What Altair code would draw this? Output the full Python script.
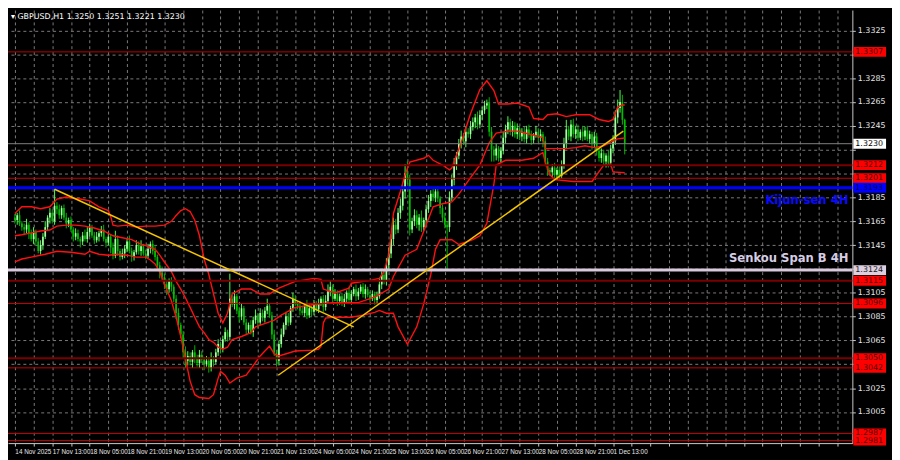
import altair as alt
import pandas as pd

BASE = 1.3      # prices below are written in pips above 1.3000
PIP = 0.0001

# ---- H1 candles (closes, pips above 1.3000), open = previous close ----
first_open = 168
closes = [
    166, 170, 163, 160, 158, 162, 155, 150, 156, 148,
    140, 145, 152, 160, 168, 172, 165, 178, 175, 170,
    176, 168, 163, 166, 158, 152, 155, 150, 148, 153,
    150, 156, 160, 153, 149, 152, 155, 158, 150, 147,
    152, 143, 136, 150, 140, 135, 138, 142, 148, 140,
    135, 139, 145, 140, 144, 138, 136, 142, 146, 140,
    135, 128, 122, 118, 112, 108, 115, 110, 100, 88,
    78, 70, 55, 48, 52, 47, 55, 50, 46, 53,
    49, 45, 48, 42, 50, 47, 55, 62, 58, 66,
    72, 68, 100, 95, 102, 90, 85, 92, 80, 74,
    78, 72, 82, 86, 80, 88, 84, 90, 94, 86,
    70, 55, 48, 62, 70, 78, 85, 80, 92, 100,
    96, 94, 90, 88, 94, 86, 92, 89, 95, 91,
    96, 100, 93, 98, 106, 110, 100, 104, 98, 102,
    96, 100, 105, 99, 104, 108, 102, 106, 110, 104,
    108, 103, 100, 104, 99, 102, 112, 120, 115, 128,
    138, 150, 162, 158, 172, 178, 190, 205, 200, 158,
    165, 170, 162, 168, 160, 166, 175, 182, 188, 185,
    190, 184, 176, 168, 162, 160, 185, 200, 212, 220,
    230, 236, 232, 240, 238, 244, 248, 252, 246, 254,
    258, 262, 264, 240, 225, 220, 226, 218, 224, 235,
    242, 248, 240, 245, 238, 243, 236, 240, 234, 242,
    238, 233, 237, 240, 235, 238, 232, 215, 208, 206,
    210, 204, 208, 203, 212, 230, 242, 236, 246, 238,
    242, 235, 240, 236, 241, 234, 238, 230, 236, 224,
    218, 222, 215, 220, 214, 226, 232, 252, 260, 265,
    250, 230,
]
up_wick = [
    3, 2, 4, 2, 3, 5, 2, 3, 4, 2, 3, 4, 3, 5, 2, 4, 3, 14, 3, 4,
    2, 3, 4, 2, 3, 2, 4, 3, 2, 3, 5, 4, 3, 2, 3, 4, 2, 3, 4, 2,
    3, 2, 4, 7, 3, 2, 4, 3, 2, 5, 3, 2, 4, 3, 5, 2, 3, 4, 2, 3,
    4, 2, 3, 5, 3, 4, 2, 3, 2, 3, 4, 2, 3, 5, 4, 3, 2, 6, 3, 4,
    3, 2, 4, 3, 5, 2, 3, 4, 2, 3, 4, 2, 21, 3, 5, 2, 3, 4, 2, 3,
    2, 4, 3, 5, 2, 4, 3, 3, 6, 2, 3, 4, 2, 3, 5, 2, 4, 3, 2, 5,
    3, 2, 4, 3, 2, 5, 3, 2, 4, 3, 4, 2, 3, 5, 6, 5, 2, 4, 3, 2,
    3, 4, 2, 5, 3, 2, 4, 3, 2, 3, 4, 2, 3, 3, 2, 4, 5, 3, 4, 6,
    5, 4, 6, 5, 4, 6, 5, 8, 10, 4, 3, 5, 4, 3, 6, 2, 4, 5, 3, 4,
    3, 4, 2, 3, 4, 3, 5, 4, 6, 3, 4, 5, 3, 4, 3, 5, 4, 3, 5, 4,
    3, 4, 3, 5, 4, 3, 4, 2, 3, 5, 4, 5, 3, 4, 3, 4, 2, 3, 4, 3,
    4, 3, 2, 5, 3, 4, 2, 4, 3, 2, 3, 4, 2, 3, 4, 5, 8, 3, 4, 5,
    3, 4, 2, 5, 3, 4, 3, 2, 4, 3, 2, 4, 3, 2, 4, 3, 5, 6, 7, 10,
    6, 1,
]
dn_wick = [
    3, 4, 2, 3, 4, 3, 5, 2, 4, 3, 2, 3, 4, 2, 3, 5, 2, 3, 4, 3,
    3, 2, 4, 3, 2, 4, 3, 2, 5, 3, 2, 3, 4, 2, 3, 2, 4, 3, 2, 4,
    2, 5, 3, 2, 4, 3, 2, 4, 3, 2, 4, 3, 2, 3, 4, 2, 3, 2, 4, 3,
    3, 4, 5, 3, 4, 5, 3, 4, 3, 5, 4, 3, 5, 6, 4, 3, 5, 4, 3, 4,
    3, 5, 2, 4, 3, 4, 2, 3, 4, 3, 2, 4, 3, 2, 4, 3, 5, 3, 2, 4,
    3, 2, 4, 3, 5, 2, 3, 4, 3, 2, 4, 3, 5, 4, 3, 2, 4, 3, 2, 3,
    2, 3, 4, 2, 3, 3, 2, 4, 3, 2, 3, 2, 4, 3, 2, 4, 3, 2, 4, 3,
    2, 3, 4, 2, 3, 2, 4, 3, 2, 3, 4, 2, 3, 2, 4, 3, 2, 4, 3, 4,
    3, 4, 5, 4, 3, 5, 4, 6, 4, 5, 3, 4, 3, 5, 4, 3, 4, 3, 5, 3,
    4, 3, 5, 4, 3, 36, 4, 3, 5, 4, 3, 4, 3, 5, 3, 4, 3, 5, 4, 3,
    4, 3, 3, 4, 10, 5, 4, 3, 4, 3, 5, 4, 3, 4, 3, 4, 3, 4, 3, 4,
    3, 4, 3, 2, 4, 3, 5, 4, 5, 3, 4, 3, 4, 3, 2, 3, 4, 3, 4, 3,
    4, 3, 2, 4, 3, 2, 4, 5, 3, 4, 3, 4, 3, 5, 4, 3, 4, 3, 5, 4,
    4, 9,
]

# ---- axis labels ----
time_labels = ["14 Nov 2025", "17 Nov 13:00", "18 Nov 05:00", "18 Nov 21:00",
               "19 Nov 13:00", "20 Nov 05:00", "20 Nov 21:00", "21 Nov 13:00",
               "24 Nov 05:00", "24 Nov 21:00", "25 Nov 13:00", "26 Nov 05:00",
               "26 Nov 21:00", "27 Nov 13:00", "28 Nov 05:00", "28 Nov 21:00",
               "1 Dec 13:00"]
price_ticks = [1.3005, 1.3025, 1.3045, 1.3065, 1.3085, 1.3105, 1.3125, 1.3145,
               1.3165, 1.3185, 1.3205, 1.3225, 1.3245, 1.3265, 1.3285, 1.3305,
               1.3325]
# tick labels that sit under a level box on the price scale
covered_ticks = ["1.3045", "1.3125", "1.3205", "1.3225", "1.3305"]

# ---- bands (bar index, pips above 1.3000) ----
upper_idx = [0, 3, 7, 11, 15, 18, 22, 24, 28, 32, 36, 40, 41, 42, 44, 48, 52, 56, 60, 64,
             67, 69, 71, 73, 75, 77, 79, 81, 83, 85, 87, 89, 91, 93, 97, 101, 105, 109, 113, 120,
             128, 131, 132, 137, 143, 144, 152, 156, 158, 160, 162, 165, 167, 169, 175, 177, 179, 183, 186, 187,
             191, 195, 199, 202, 205, 207, 211, 215, 220, 222, 226, 228, 232, 236, 240, 246, 250, 254, 256, 258,
             260, 261]
upper_val = [171.5, 177.1, 177.1, 175.5, 177.1, 183.6, 185.3, 184.5, 183.6, 182.0, 177.1, 173.9, 169.0, 161.7, 160.9,
             161.7, 160.1, 160.9, 160.9, 161.7, 164.9, 169.8, 173.9, 175.5, 173.1, 165.8, 152.8, 133.3, 120.3, 104.0,
             87.8, 79.7, 87.8, 104.0, 108.1, 108.1, 104.0, 104.0, 108.9, 114.6, 117.0, 116.2, 108.1, 104.8, 108.9,
             113.0, 115.4, 117.0, 122.7, 136.5, 171.5, 190.1, 203.9, 214.5, 217.8, 220.2, 216.1, 212.1, 208.0, 209.6,
             230.8, 255.1, 275.4, 282.8, 274.6, 263.3, 263.3, 264.1, 260.8, 251.1, 250.3, 254.3, 255.1, 252.7, 254.3,
             254.3, 250.3, 248.6, 250.3, 260.8, 262.4, 262.4]
mid_idx = [0, 3, 7, 11, 15, 18, 22, 26, 30, 34, 38, 42, 46, 50, 54, 56, 60, 62, 64, 67,
           69, 71, 73, 75, 77, 79, 81, 83, 85, 87, 89, 91, 93, 97, 101, 103, 109, 111, 114, 120,
           128, 136, 147, 152, 155, 160, 162, 167, 172, 179, 183, 187, 190, 195, 199, 203, 206, 211, 215, 220,
           224, 226, 227, 232, 236, 240, 244, 248, 252, 256, 258, 261]
mid_val = [152.8, 153.6, 155.2, 156.8, 157.6, 160.9, 161.7, 161.7, 160.9, 159.3, 156.8, 152.8, 151.1, 149.5, 145.5,
           144.6, 141.4, 136.5, 130.8, 122.7, 114.6, 108.1, 100.8, 92.7, 84.5, 76.4, 71.5, 65.8, 63.4, 59.3,
           57.7, 59.3, 65.8, 68.3, 71.5, 76.4, 80.5, 82.1, 86.2, 92.7, 95.1, 96.7, 96.7, 100.0, 102.4,
           108.1, 118.6, 136.5, 141.4, 177.1, 179.6, 181.2, 187.7, 201.5, 212.1, 230.8, 238.9, 240.5, 240.5, 238.1,
           236.4, 234.8, 225.9, 225.9, 225.9, 226.7, 228.3, 226.7, 228.3, 232.4, 234.0, 234.8]
lower_idx = [0, 3, 7, 13, 18, 24, 30, 32, 36, 40, 44, 48, 52, 56, 58, 60, 62, 64, 67, 69,
             71, 73, 75, 77, 79, 83, 85, 87, 88, 90, 92, 95, 99, 102, 105, 107, 109, 111, 113, 120,
             128, 130, 131, 132, 133, 136, 144, 149, 154, 156, 159, 162, 164, 168, 172, 175, 178, 180, 182, 187,
             190, 196, 199, 202, 205, 206, 210, 217, 222, 226, 227, 229, 231, 239, 247, 249, 252, 255, 256, 261]
lower_val = [130.8, 133.3, 134.9, 137.3, 139.8, 139.0, 137.3, 139.8, 137.3, 136.5, 137.3, 136.5, 134.9, 134.9, 132.5,
             129.2, 122.7, 112.2, 98.3, 84.5, 68.3, 49.6, 30.9, 19.5, 17.1, 16.3, 19.5, 33.4, 39.0, 35.8,
             29.3, 33.4, 35.8, 43.9, 52.0, 56.1, 60.2, 53.7, 52.0, 56.1, 56.9, 57.7, 60.2, 79.7, 83.7,
             84.5, 84.5, 86.2, 88.6, 90.2, 87.8, 87.8, 76.4, 61.8, 76.4, 95.9, 120.3, 141.4, 149.5, 149.5,
             145.5, 149.5, 152.8, 163.3, 195.8, 212.1, 216.1, 216.1, 217.8, 222.6, 214.5, 203.9, 199.9, 198.3, 198.3,
             203.9, 212.1, 212.9, 206.4, 205.6]

# ---- trend lines (bar index, pips) ----
trend_name = ["down", "down", "up", "up"]
trend_idx = [17, 145, 112.7, 260.4]
trend_val = [191.8, 76.4, 35.8, 240.5]

# ---- horizontal levels ----
level_price = [1.3307, 1.3230, 1.3212, 1.3201, 1.3193, 1.3124, 1.3115, 1.3096, 1.3050, 1.3042, 1.2987, 1.2981]
level_line = ["#c00000", "#7f7f7f", "#7a0000", "#c80000", "#0000ff", "#d8cadc",
              "#7a0000", "#c80000", "#7a0000", "#c80000", "#c80000", "#c80000"]
level_width = [1, 1, 2, 1, 3, 3, 2, 1, 2, 1, 1, 1]
level_box = ["#ff0000", "#ffffff", "#ff0000", "#ff0000", "#0000ff", "#dccfe0",
             "#ff0000", "#ff0000", "#ff0000", "#ff0000", "#ff0000", "#ff0000"]
level_text = ["#4a0000", "#000000", "#4a0000", "#4a0000", "#00004a", "#202020",
              "#4a0000", "#4a0000", "#4a0000", "#4a0000", "#4a0000", "#4a0000"]

title_text = "\u25be GBPUSD,H1  1.3250 1.3251 1.3221 1.3230"

# ================= build tables =================
def px(v):
    return BASE + v * PIP

n = len(closes)
opens = [first_open] + closes[:-1]
candles = pd.DataFrame({
    "i": list(range(n)),
    "o": [px(v) for v in opens],
    "c": [px(v) for v in closes],
    "h": [px(max(o, c) + u) for o, c, u in zip(opens, closes, up_wick)],
    "l": [px(min(o, c) - d) for o, c, d in zip(opens, closes, dn_wick)],
})

bands = pd.concat([
    pd.DataFrame({"i": upper_idx, "p": [px(v) for v in upper_val], "band": "upper"}),
    pd.DataFrame({"i": mid_idx, "p": [px(v) for v in mid_val], "band": "mid"}),
    pd.DataFrame({"i": lower_idx, "p": [px(v) for v in lower_val], "band": "lower"}),
])
trend = pd.DataFrame({"i": trend_idx, "p": [px(v) for v in trend_val], "line": trend_name})
levels = pd.DataFrame({
    "p": level_price, "lc": level_line, "lw": level_width,
    "bc": level_box, "tc": level_text,
    "label": [f"{v:.4f}" for v in level_price],
})

W, H = 852, 437
FONT = "DejaVu Sans"
SMALL = "Liberation Sans"
xs = alt.Scale(domain=[-0.82, 356.3], nice=False, zero=False)
ys = alt.Scale(domain=[1.29789, 1.33421], nice=False, zero=False)

arr = "[" + ",".join(f"'{t}'" for t in time_labels) + "]"
covered = "[" + ",".join(f"'{t}'" for t in covered_ticks) + "]"
xaxis = alt.Axis(
    title=None, orient="bottom", values=list(range(0, 353, 8)),
    labelExpr=f"(datum.value % 16 == 0 && datum.value <= 256) ? {arr}[datum.value / 16] : ''",
    grid=True, gridColor="#7a7a7a", gridDash=[3, 3], gridWidth=1,
    domainColor="#c8c8c8", tickColor="#c8c8c8", tickSize=3,
    labelColor="#e8e8e8", labelFont=SMALL, labelFontSize=6.4, labelAlign="left",
    labelPadding=2, labelOverlap=False, labelFlush=False, labelBound=False,
)
yaxis = alt.Axis(
    title=None, orient="right", values=price_ticks,
    labelExpr=f"indexof({covered}, format(datum.value, '.4f')) >= 0 ? '' : format(datum.value, '.4f')",
    grid=True, gridColor="#7a7a7a", gridDash=[3, 3], gridWidth=1,
    domainColor="#c8c8c8", tickColor="#c8c8c8", tickSize=3,
    labelColor="#e8e8e8", labelFont=FONT, labelFontSize=8, labelPadding=2,
    labelOverlap=False, labelBound=False,
)

def X(field):
    return alt.X(field, scale=xs, axis=xaxis)

def Y(field):
    return alt.Y(field, scale=ys, axis=yaxis)

base = alt.Chart(candles)
wicks = base.mark_rule(strokeWidth=1).encode(
    x=X("i:Q"), y=Y("l:Q"), y2="h:Q",
    color=alt.condition("datum.c >= datum.o", alt.value("#4dff4d"), alt.value("#00b400")),
)
bodies = base.mark_bar(size=1.7).encode(
    x=X("i:Q"), y=Y("o:Q"), y2="c:Q",
    color=alt.condition("datum.c >= datum.o", alt.value("#a6ffa6"), alt.value("#00c000")),
)
band_lines = alt.Chart(bands).mark_line(color="#ff1010", strokeWidth=1.4).encode(
    x=X("i:Q"), y=Y("p:Q"), detail="band:N",
)
level_rules = alt.Chart(levels).mark_rule().encode(
    y=Y("p:Q"),
    color=alt.Color("lc:N", scale=None),
    strokeWidth=alt.StrokeWidth("lw:Q", scale=None),
)
trend_lines = alt.Chart(trend).mark_line(color="#f5c400", strokeWidth=1.5).encode(
    x=X("i:Q"), y=Y("p:Q"), detail="line:N",
)
boxes = alt.Chart(levels).mark_rule(strokeWidth=10).encode(
    x=alt.value(W + 1), x2=alt.value(W + 34),
    y=Y("p:Q"),
    color=alt.Color("bc:N", scale=None),
)
box_text = alt.Chart(levels).mark_text(align="left", baseline="middle", font=FONT, fontSize=8).encode(
    x=alt.value(W + 3),
    y=Y("p:Q"),
    text="label:N",
    color=alt.Color("tc:N", scale=None),
)
NARROW = "Liberation Sans Narrow, DejaVu Sans Condensed, Liberation Sans, sans-serif"
kijun = alt.Chart(pd.DataFrame({"p": [1.3193], "t": ["Kijun-sen 4H"]})).mark_text(
    align="right", baseline="middle", dy=12, font=NARROW, fontSize=13, fontWeight="bold", color="#0a0aff"
).encode(x=alt.value(W - 4), y=Y("p:Q"), text="t:N")
senkou = alt.Chart(pd.DataFrame({"p": [1.3124], "t": ["Senkou Span B 4H"]})).mark_text(
    align="right", baseline="middle", dy=-12, font=NARROW, fontSize=13, fontWeight="bold", color="#d6cce4"
).encode(x=alt.value(W - 4), y=Y("p:Q"), text="t:N")
title = alt.Chart(pd.DataFrame({"t": [title_text]})).mark_text(
    align="left", baseline="top", font=FONT, fontSize=8, color="#ffffff"
).encode(x=alt.value(3), y=alt.value(3), text="t:N")

chart = alt.layer(
    wicks, bodies, band_lines, level_rules, trend_lines, boxes, box_text, kijun, senkou, title
).properties(
    width=W, height=H,
    padding={"left": 0, "top": 0, "right": 40, "bottom": 15},
    autosize=alt.AutoSizeParams(type="none"),
).configure(background="#000000").configure_view(strokeWidth=0)

chart.save("out.html", embed_options={"renderer": "svg", "actions": False})
